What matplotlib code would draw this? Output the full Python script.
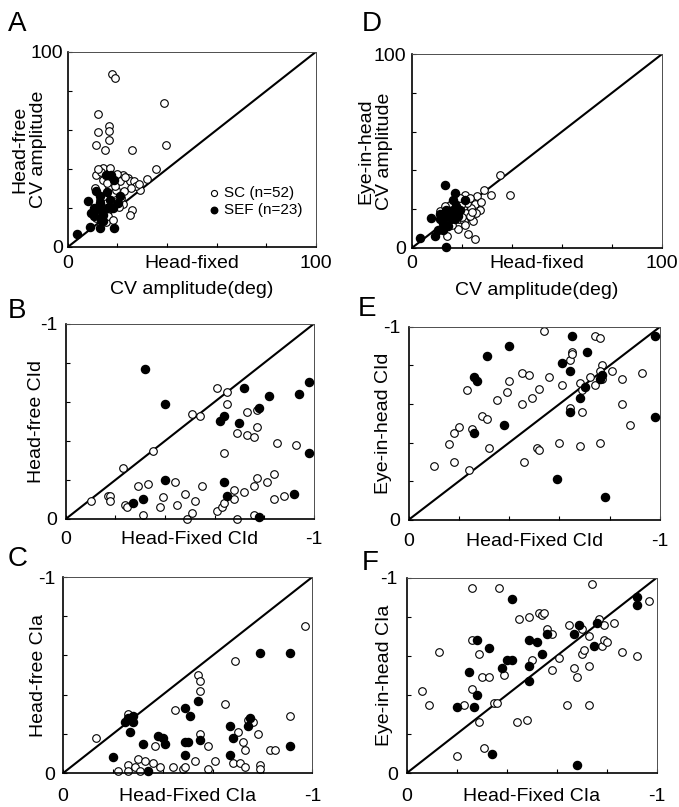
import numpy as np
import matplotlib
matplotlib.use('Agg')
import matplotlib.pyplot as plt

plt.rcParams.update({
    'font.family': 'Liberation Sans',
    'font.size': 14,
    'axes.linewidth': 1.0,
    'xtick.direction': 'in',
    'ytick.direction': 'in',
    'xtick.major.size': 3,
    'ytick.major.size': 3,
})

# A: CV amplitude (deg), head-fixed (x) vs head-free (y)
a_sc = [(17.8, 88.9), (19.1, 86.7), (38.8, 73.8), (12.2, 68.2), (16.4, 62.2), (12.2, 58.8),
        (16.7, 59.7), (11.4, 52.5), (15.1, 49.9), (16.7, 55.0), (26.0, 49.9), (39.6, 52.1),
        (35.4, 40.0), (31.8, 35.0), (14.1, 40.5), (11.4, 37.1), (22.2, 37.1), (24.2, 35.4),
        (24.9, 33.7), (21.1, 33.7), (29.2, 29.1), (16.4, 30.3), (18.2, 27.7), (22.2, 22.2),
        (26.0, 19.1), (24.9, 16.6), (11.4, 14.9), (15.5, 12.6), (19.5, 29.4), (14.1, 34.5),
        (12.8, 24.3), (17.5, 36.2), (20.0, 37.5), (23.0, 36.0), (26.5, 34.0), (27.5, 31.5),
        (19.0, 31.5), (13.5, 38.5), (15.8, 33.0), (21.5, 25.0), (18.5, 23.0), (13.0, 18.0),
        (16.0, 16.0), (20.5, 20.5), (25.5, 30.0), (12.0, 40.0), (14.5, 26.0), (17.0, 40.5),
        (28.5, 32.5), (22.5, 28.5), (11.0, 30.0), (18.0, 14.0)]
a_sef = [(8.1, 23.4), (3.6, 6.7), (9.0, 10.1), (12.8, 9.7), (18.4, 9.7), (14.1, 13.2),
         (11.4, 28.9), (12.8, 26.0), (15.7, 28.0), (10.4, 20.0), (12.8, 19.1), (15.7, 20.0),
         (18.2, 20.0), (20.2, 22.6), (10.4, 15.7), (14.1, 16.6), (15.5, 37.1), (17.5, 37.1),
         (18.8, 34.5), (12.8, 22.6), (13.5, 14.0), (20.9, 26.0), (16.8, 24.3), (9.4, 17.4)]

# D: CV amplitude (deg), head-fixed (x) vs eye-in-head (y)
d_sc = [(35.1, 37.7), (28.7, 29.7), (31.7, 27.4), (39.1, 27.4), (21.1, 27.4), (25.1, 24.9),
        (25.1, 22.8), (27.1, 19.4), (25.7, 18.0), (24.4, 13.7), (22.4, 16.6), (18.4, 9.8),
        (22.4, 6.9), (25.1, 4.6), (14.0, 6.0), (11.1, 18.9), (20.4, 20.6), (21.7, 18.0),
        (18.4, 18.0), (16.4, 16.3), (23.7, 20.6), (18.8, 14.6), (20.9, 13.7), (17.1, 24.9),
        (15.1, 22.3), (23.1, 16.3), (26.0, 26.5), (22.0, 23.0), (19.5, 22.0), (24.0, 18.5),
        (20.0, 16.0), (12.5, 15.0), (17.5, 20.5), (14.5, 19.5), (27.5, 23.5), (21.0, 11.5),
        (16.0, 12.0), (19.0, 25.5), (23.0, 25.5), (13.0, 21.5)]
d_sef = [(13.2, 32.6), (17.1, 28.3), (7.7, 15.4), (3.3, 5.1), (9.1, 6.0), (13.7, 0.5),
         (21.1, 24.9), (12.4, 9.4), (11.1, 14.6), (13.7, 16.3), (15.1, 18.0), (16.4, 19.7),
         (17.7, 21.4), (19.1, 19.7), (15.7, 14.6), (17.1, 14.6), (18.4, 16.3), (13.7, 19.7),
         (11.1, 17.2), (12.4, 12.9), (14.4, 11.1), (16.4, 24.9), (10.4, 9.4)]

# B: CId, head-fixed (x) vs head-free (y)
b_sc = [(-0.10, -0.09), (-0.17, -0.12), (-0.18, -0.12), (-0.18, -0.09), (-0.23, -0.26),
        (-0.24, -0.07), (-0.245, -0.06), (-0.29, -0.17), (-0.33, -0.18), (-0.31, -0.02),
        (-0.35, -0.35), (-0.38, -0.06), (-0.39, -0.11), (-0.44, -0.19), (-0.45, -0.07),
        (-0.48, -0.13), (-0.49, -0.00), (-0.51, -0.03), (-0.52, -0.09), (-0.55, -0.17),
        (-0.51, -0.54), (-0.54, -0.53), (-0.61, -0.67), (-0.65, -0.65), (-0.65, -0.59),
        (-0.61, -0.04), (-0.63, -0.06), (-0.64, -0.08), (-0.64, -0.34), (-0.68, -0.15),
        (-0.68, -0.10), (-0.69, -0.44), (-0.69, -0.00), (-0.72, -0.14), (-0.73, -0.55),
        (-0.77, -0.56), (-0.73, -0.43), (-0.76, -0.42), (-0.77, -0.47), (-0.76, -0.17),
        (-0.77, -0.21), (-0.76, -0.02), (-0.81, -0.19), (-0.84, -0.23), (-0.84, -0.10),
        (-0.88, -0.12), (-0.85, -0.39), (-0.93, -0.38)]
b_sef = [(-0.32, -0.77), (-0.40, -0.59), (-0.72, -0.67), (-0.82, -0.63), (-0.94, -0.64),
         (-0.98, -0.70), (-0.78, -0.57), (-0.64, -0.53), (-0.62, -0.50), (-0.70, -0.49),
         (-0.98, -0.34), (-0.40, -0.20), (-0.64, -0.19), (-0.65, -0.12), (-0.92, -0.13),
         (-0.31, -0.10), (-0.27, -0.08), (-0.78, -0.01)]

# E: CId, head-fixed (x) vs eye-in-head (y)
e_sc = [(-0.10, -0.28), (-0.18, -0.30), (-0.16, -0.39), (-0.18, -0.45), (-0.20, -0.48),
        (-0.24, -0.26), (-0.23, -0.67), (-0.25, -0.47), (-0.29, -0.54), (-0.31, -0.52),
        (-0.32, -0.37), (-0.35, -0.62), (-0.39, -0.66), (-0.40, -0.72), (-0.45, -0.76),
        (-0.48, -0.75), (-0.45, -0.60), (-0.49, -0.63), (-0.52, -0.68), (-0.56, -0.74),
        (-0.54, -0.98), (-0.46, -0.30), (-0.51, -0.37), (-0.52, -0.36), (-0.60, -0.40),
        (-0.61, -0.70), (-0.64, -0.83), (-0.65, -0.87), (-0.65, -0.86), (-0.64, -0.58),
        (-0.68, -0.38), (-0.68, -0.71), (-0.69, -0.67), (-0.69, -0.56), (-0.72, -0.74),
        (-0.74, -0.70), (-0.74, -0.95), (-0.76, -0.94), (-0.76, -0.40), (-0.77, -0.80),
        (-0.77, -0.73), (-0.76, -0.77), (-0.81, -0.77), (-0.85, -0.73), (-0.85, -0.60),
        (-0.88, -0.49), (-0.93, -0.76)]
e_sef = [(-0.40, -0.90), (-0.31, -0.85), (-0.26, -0.74), (-0.27, -0.72), (-0.26, -0.45),
         (-0.38, -0.49), (-0.65, -0.95), (-0.61, -0.81), (-0.64, -0.77), (-0.71, -0.87),
         (-0.77, -0.75), (-0.76, -0.73), (-0.70, -0.69), (-0.68, -0.63), (-0.64, -0.56),
         (-0.59, -0.21), (-0.78, -0.12), (-0.98, -0.95), (-0.98, -0.53)]

# C: CIa, head-fixed (x) vs head-free (y)
c_sc = [(-0.13, -0.18), (-0.26, -0.30), (-0.22, -0.01), (-0.26, -0.04), (-0.26, -0.01),
        (-0.29, -0.03), (-0.30, -0.07), (-0.31, -0.01), (-0.33, -0.06), (-0.36, -0.05),
        (-0.37, -0.14), (-0.39, -0.03), (-0.44, -0.03), (-0.48, -0.02), (-0.49, -0.03),
        (-0.53, -0.06), (-0.58, -0.02), (-0.61, -0.06), (-0.45, -0.32), (-0.54, -0.50),
        (-0.55, -0.47), (-0.55, -0.42), (-0.55, -0.20), (-0.58, -0.14), (-0.65, -0.35),
        (-0.69, -0.57), (-0.68, -0.05), (-0.70, -0.21), (-0.71, -0.05), (-0.72, -0.16),
        (-0.73, -0.12), (-0.74, -0.27), (-0.76, -0.26), (-0.73, -0.03), (-0.78, -0.20),
        (-0.79, -0.04), (-0.79, -0.02), (-0.83, -0.12), (-0.85, -0.12), (-0.91, -0.29),
        (-0.97, -0.75)]
c_sef = [(-0.26, -0.28), (-0.28, -0.29), (-0.25, -0.26), (-0.28, -0.26), (-0.27, -0.21),
         (-0.20, -0.08), (-0.32, -0.15), (-0.38, -0.19), (-0.40, -0.18), (-0.41, -0.15),
         (-0.34, -0.01), (-0.49, -0.33), (-0.51, -0.29), (-0.54, -0.37), (-0.49, -0.16),
         (-0.50, -0.16), (-0.49, -0.09), (-0.55, -0.17), (-0.67, -0.24), (-0.68, -0.18),
         (-0.67, -0.09), (-0.75, -0.28), (-0.74, -0.24), (-0.79, -0.61), (-0.91, -0.61),
         (-0.91, -0.14)]

# F: CIa, head-fixed (x) vs eye-in-head (y)
f_sc = [(-0.06, -0.42), (-0.09, -0.35), (-0.13, -0.62), (-0.20, -0.09), (-0.23, -0.35),
        (-0.26, -0.68), (-0.26, -0.95), (-0.26, -0.43), (-0.29, -0.61), (-0.29, -0.26),
        (-0.30, -0.49), (-0.33, -0.49), (-0.31, -0.13), (-0.35, -0.36), (-0.36, -0.36),
        (-0.37, -0.95), (-0.39, -0.50), (-0.44, -0.26), (-0.48, -0.27), (-0.45, -0.79),
        (-0.49, -0.80), (-0.50, -0.58), (-0.53, -0.82), (-0.54, -0.81), (-0.55, -0.82),
        (-0.56, -0.74), (-0.58, -0.71), (-0.58, -0.53), (-0.61, -0.59), (-0.64, -0.35),
        (-0.65, -0.76), (-0.67, -0.54), (-0.68, -0.49), (-0.70, -0.74), (-0.70, -0.61),
        (-0.71, -0.63), (-0.73, -0.70), (-0.73, -0.55), (-0.73, -0.35), (-0.74, -0.97),
        (-0.77, -0.79), (-0.78, -0.65), (-0.79, -0.68), (-0.80, -0.67), (-0.79, -0.76),
        (-0.83, -0.77), (-0.86, -0.62), (-0.92, -0.60), (-0.97, -0.88)]
f_sef = [(-0.42, -0.89), (-0.28, -0.68), (-0.33, -0.64), (-0.25, -0.52), (-0.28, -0.40),
         (-0.27, -0.34), (-0.20, -0.34), (-0.34, -0.10), (-0.38, -0.54), (-0.40, -0.58),
         (-0.42, -0.58), (-0.49, -0.68), (-0.52, -0.67), (-0.56, -0.71), (-0.54, -0.61),
         (-0.49, -0.55), (-0.49, -0.47), (-0.69, -0.76), (-0.67, -0.71), (-0.76, -0.77),
         (-0.75, -0.65), (-0.92, -0.90), (-0.92, -0.86), (-0.68, -0.04)]

amp_labels = ['0', '', '', '', '', '100']
ci_labels = ['0', '', '', '', '', '-1']


def draw_panel(ax, sc, sef, lim, ticklabels, xlabel, ylabel, ylabel_x, xpad, ypad):
    sc = np.array(sc)
    sef = np.array(sef)
    ax.plot([0, lim], [0, lim], color='black', lw=1.5, zorder=1)
    ax.scatter(sc[:, 0], sc[:, 1], s=30, facecolors='white', edgecolors='black',
               linewidths=0.8, zorder=2, clip_on=False, label='SC (n=52)')
    ax.scatter(sef[:, 0], sef[:, 1], s=34, color='black', zorder=3,
               clip_on=False, label='SEF (n=23)')
    ax.set_xlim(0, lim)
    ax.set_ylim(0, lim)
    ticks = np.linspace(0, lim, 6)
    ax.set_xticks(ticks)
    ax.set_yticks(ticks)
    ax.set_xticklabels(ticklabels)
    ax.set_yticklabels(ticklabels)
    ax.tick_params(axis='x', pad=xpad)
    ax.tick_params(axis='y', pad=ypad)
    for side in ['left', 'bottom']:
        ax.spines[side].set_linewidth(1.2)
    for side in ['top', 'right']:
        ax.spines[side].set_linewidth(0.7)
        ax.spines[side].set_color('0.3')
    ax.set_xlabel(xlabel, linespacing=1.75)
    ax.set_ylabel(ylabel, linespacing=1.1)
    ax.xaxis.set_label_coords(0.5, -xpad * 1.39 / ax.bbox.height)
    ax.yaxis.set_label_coords(ylabel_x, 0.5)


fig = plt.figure(figsize=(6.79, 8.07), dpi=100)

ax_a = fig.add_axes([0.100, 0.694, 0.365, 0.2416])
ax_d = fig.add_axes([0.607, 0.693, 0.368, 0.240])
ax_b = fig.add_axes([0.097, 0.357, 0.365, 0.2416])
ax_e = fig.add_axes([0.602, 0.356, 0.370, 0.239])
ax_c = fig.add_axes([0.093, 0.042, 0.367, 0.243])
ax_f = fig.add_axes([0.599, 0.042, 0.368, 0.242])

draw_panel(ax_a, a_sc, a_sef, 100, amp_labels,
           'Head-fixed\nCV amplitude(deg)', 'Head-free\nCV amplitude', -0.085, 5.5, 3.6)
draw_panel(ax_d, d_sc, d_sef, 100, amp_labels,
           'Head-fixed\nCV amplitude(deg)', 'Eye-in-head\nCV amplitude', -0.076, 5.5, 4.5)
draw_panel(ax_b, b_sc, b_sef, -1, ci_labels, 'Head-Fixed CId', 'Head-free CId', -0.085, 9, 6.3)
draw_panel(ax_e, e_sc, e_sef, -1, ci_labels, 'Head-Fixed CId', 'Eye-in-head CId', -0.068, 9.5, 6.3)
draw_panel(ax_c, c_sc, c_sef, -1, ci_labels, 'Head-Fixed CIa', 'Head-free CIa', -0.064, 10.5, 5.8)
draw_panel(ax_f, f_sc, f_sef, -1, ci_labels, 'Head-Fixed CIa', 'Eye-in-head CIa', -0.056, 11, 6.3)

ax_a.legend(loc='lower left', bbox_to_anchor=(0.51, 0.10), frameon=False,
            fontsize=11, handletextpad=0.05, labelspacing=0.2, borderpad=0.2,
            markerscale=0.8, handlelength=1.2)

# panel letters
for letter, x, y in [('A', 8, 11), ('D', 362, 11), ('B', 8, 298),
                     ('E', 358, 296), ('C', 8, 546), ('F', 362, 550)]:
    fig.text(x / 679, 1 - y / 807, letter, fontsize=20, va='top', ha='left')

plt.savefig('out.png', dpi=100)
plt.close()
